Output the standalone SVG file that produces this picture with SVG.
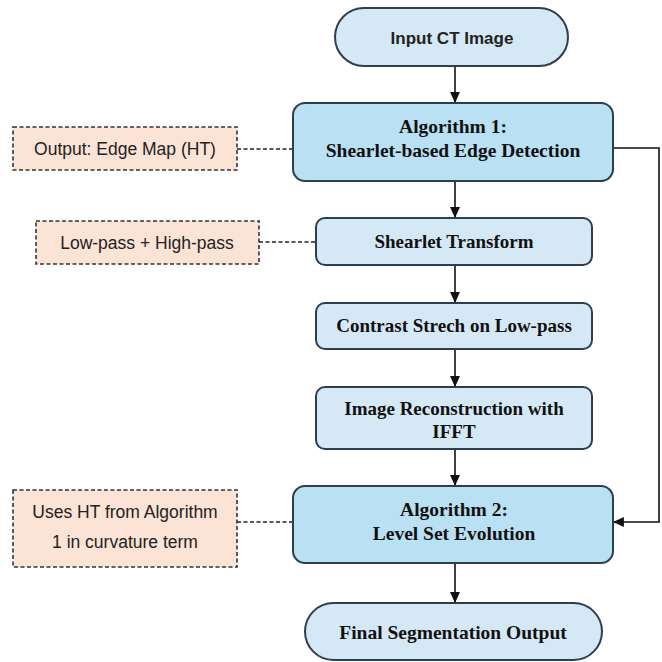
<svg xmlns="http://www.w3.org/2000/svg" width="662" height="662" viewBox="0 0 662 662">
  <defs>
    <marker id="arrow" viewBox="0 0 10 10" refX="9" refY="5" markerWidth="11" markerHeight="11" markerUnits="userSpaceOnUse" orient="auto">
      <path d="M0,0.5 L10,5 L0,9.5 z" fill="#111"/>
    </marker>
    <style>
      .pill { fill: #d5e8f6; stroke: #2d3e4e; stroke-width: 2; }
      .algo { fill: #b9e0f3; stroke: #2d3e4e; stroke-width: 2; }
      .step { fill: #d5e8f6; stroke: #2d3e4e; stroke-width: 2; }
      .note { fill: #fbe3d6; stroke: #333; stroke-width: 1.6; stroke-dasharray: 4 2.5; }
      .serif { font-family: "Liberation Serif", "Times New Roman", serif; font-weight: bold; fill: #111; text-anchor: middle; }
      .sans { font-family: "Liberation Sans", Arial, sans-serif; fill: #222; text-anchor: middle; }
      .flow { stroke: #111; stroke-width: 1.6; fill: none; }
      .dash { stroke: #222; stroke-width: 1.4; fill: none; stroke-dasharray: 4 2.5; }
    </style>
  </defs>
  <rect width="662" height="662" fill="#fff"/>

  <g id="connectors">
    <line class="flow" x1="455" y1="66" x2="455" y2="102" marker-end="url(#arrow)"/>
    <line class="flow" x1="455" y1="181" x2="455" y2="217" marker-end="url(#arrow)"/>
    <line class="flow" x1="455" y1="265" x2="455" y2="302" marker-end="url(#arrow)"/>
    <line class="flow" x1="455" y1="349" x2="455" y2="386" marker-end="url(#arrow)"/>
    <line class="flow" x1="455" y1="449" x2="455" y2="485" marker-end="url(#arrow)"/>
    <line class="flow" x1="455" y1="563" x2="455" y2="602" marker-end="url(#arrow)"/>
    <polyline class="flow" points="613,148 659,148 659,522 614,522" marker-end="url(#arrow)"/>
    <line class="dash" x1="237" y1="149" x2="293" y2="149"/>
    <line class="dash" x1="259" y1="242" x2="316" y2="242"/>
    <line class="dash" x1="237" y1="522" x2="293" y2="522"/>
  </g>

  <g id="input">
    <rect class="pill" x="335" y="8" width="233" height="58" rx="29"/>
    <text class="sans" x="452" y="44" font-size="17" font-weight="bold" fill="#111">Input CT Image</text>
  </g>

  <g id="algorithm1">
    <rect class="algo" x="293" y="103" width="320" height="78" rx="12"/>
    <text class="serif" x="453" y="133" font-size="19.5">Algorithm 1:</text>
    <text class="serif" x="453" y="157" font-size="19.5">Shearlet-based Edge Detection</text>
  </g>

  <g id="note-edge-map">
    <rect class="note" x="13" y="127" width="224" height="43"/>
    <text class="sans" x="125" y="155" font-size="17.5">Output: Edge Map (HT)</text>
  </g>

  <g id="shearlet-transform">
    <rect class="step" x="316" y="218" width="276" height="47" rx="9"/>
    <text class="serif" x="454" y="248" font-size="19">Shearlet Transform</text>
  </g>

  <g id="note-bands">
    <rect class="note" x="36" y="221" width="223" height="43"/>
    <text class="sans" x="147" y="249" font-size="17.5">Low-pass + High-pass</text>
  </g>

  <g id="contrast-stretch">
    <rect class="step" x="316" y="303" width="276" height="46" rx="9"/>
    <text class="serif" x="454" y="332" font-size="19">Contrast Strech on Low-pass</text>
  </g>

  <g id="reconstruction">
    <rect class="step" x="316" y="387" width="276" height="62" rx="9"/>
    <text class="serif" x="454" y="415" font-size="19">Image Reconstruction with</text>
    <text class="serif" x="454" y="438" font-size="19">IFFT</text>
  </g>

  <g id="algorithm2">
    <rect class="algo" x="293" y="486" width="320" height="77" rx="12"/>
    <text class="serif" x="454" y="516" font-size="19.5">Algorithm 2:</text>
    <text class="serif" x="454" y="540" font-size="19.5">Level Set Evolution</text>
  </g>

  <g id="note-curvature">
    <rect class="note" x="13" y="490" width="224" height="77"/>
    <text class="sans" x="125" y="518" font-size="17.5">Uses HT from Algorithm</text>
    <text class="sans" x="125" y="548" font-size="17.5">1 in curvature term</text>
  </g>

  <g id="output">
    <rect class="pill" x="305" y="603" width="297" height="57" rx="28.5"/>
    <text class="serif" x="453" y="639" font-size="19.5">Final Segmentation Output</text>
  </g>
</svg>
